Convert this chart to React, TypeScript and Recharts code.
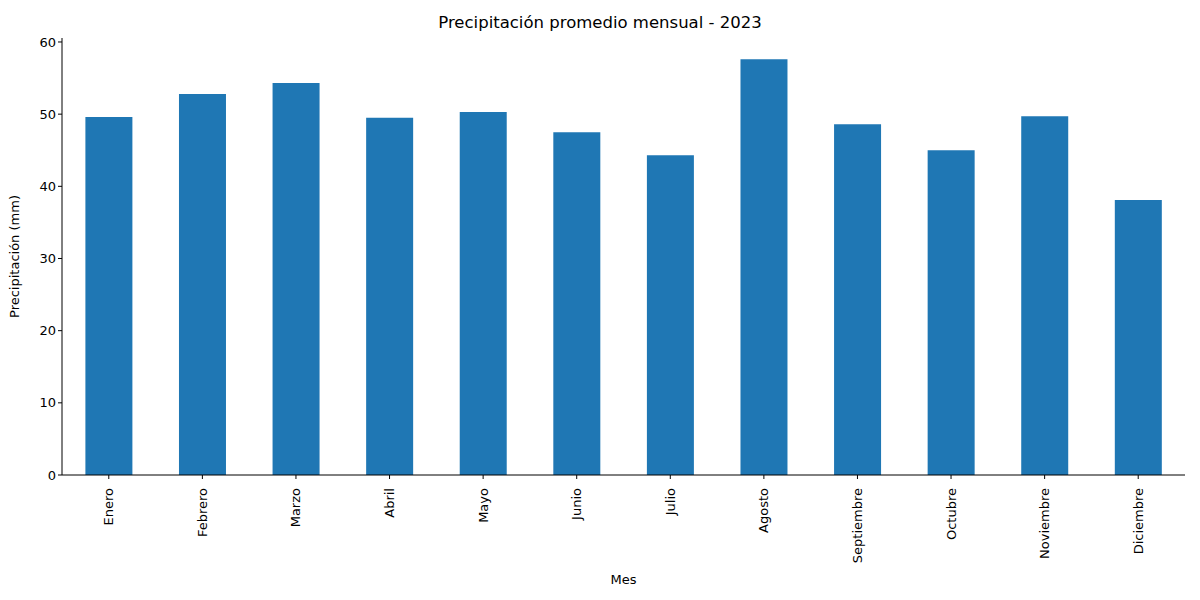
import { BarChart, Bar, XAxis, YAxis, Label } from "recharts";

const months = ["Enero", "Febrero", "Marzo", "Abril", "Mayo", "Junio", "Julio", "Agosto", "Septiembre", "Octubre", "Noviembre", "Diciembre"];
const precip = [49.6, 52.8, 54.3, 49.5, 50.3, 47.5, 44.3, 57.6, 48.6, 45.0, 49.7, 38.1];
const yTicks = [0, 10, 20, 30, 40, 50, 60];

const data = months.map((m, i) => ({ mes: m, valor: precip[i] }));
const FONT = "DejaVu Sans, sans-serif";

function RotTick(props: any) {
  const { x, y, payload } = props;
  return (
    <text x={x} y={y + 7} transform={`rotate(-90, ${x}, ${y + 7})`} textAnchor="end" dominantBaseline="central" fontSize={13} fill="#000" fontFamily={FONT}>
      {payload.value}
    </text>
  );
}

export default function App() {
  return (
    <div style={{ position: "absolute", left: 0, top: 0, width: 1200, height: 600, background: "#fff", fontFamily: FONT }}>
      <div style={{ position: "absolute", top: 13, width: 1200, textAlign: "center", fontSize: 16.5 }}>
        Precipitación promedio mensual - 2023
      </div>
      <BarChart width={1200} height={600} data={data} margin={{ top: 38, right: 15, left: 0, bottom: 0 }} barCategoryGap="25%">
        <XAxis dataKey="mes" height={125} tick={<RotTick />} tickSize={4} stroke="#000" interval={0}>
          <Label value="Mes" position="insideBottom" offset={16} fill="#000" fontSize={13} />
        </XAxis>
        <XAxis xAxisId="top" orientation="top" dataKey="mes" height={0} tick={false} tickLine={false} stroke="#000" />
        <YAxis domain={[0, 60.55]} ticks={yTicks} width={62} tickSize={4} stroke="#000" tick={{ fill: "#000", fontSize: 13 }}>
          <Label value="Precipitación (mm)" angle={-90} position="insideLeft" offset={14} style={{ textAnchor: "middle" }} fill="#000" fontSize={13} />
        </YAxis>
        <YAxis yAxisId="right" orientation="right" width={0} tick={false} tickLine={false} stroke="#000" />
        <Bar dataKey="valor" fill="#1f77b4" isAnimationActive={false} />
      </BarChart>
    </div>
  );
}
